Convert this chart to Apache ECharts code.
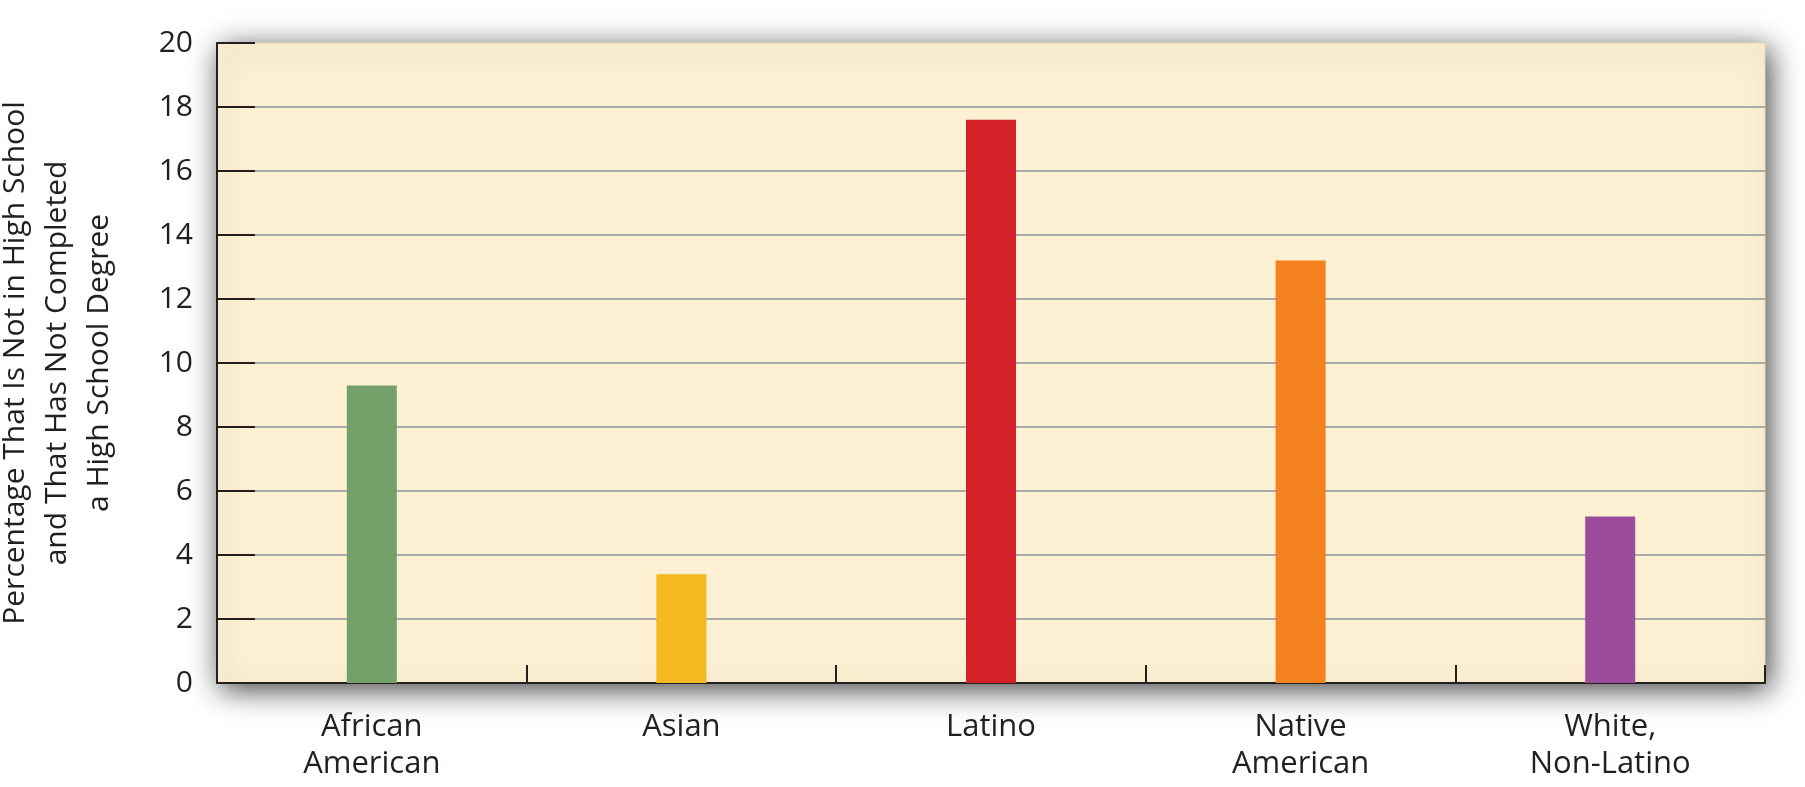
<!DOCTYPE html>
<html>
<head>
<meta charset="utf-8">
<script src="https://cdn.jsdelivr.net/npm/echarts@6/dist/echarts.min.js"></script>
<style>
html,body{margin:0;padding:0;background:#fff;}
#chart{width:1805px;height:787px;}
</style>
</head>
<body>
<div id="chart"></div>
<script>
const categories = ['African\nAmerican', 'Asian', 'Latino', 'Native\nAmerican', 'White,\nNon-Latino'];
const values = [9.3, 3.4, 17.6, 13.2, 5.2];
const barColors = ['#74a06a', '#f4b920', '#d42128', '#f58221', '#9b4d9c'];
const yTitle = 'Percentage That Is Not in High School\nand That Has Not Completed\na High School Degree';

const chart = echarts.init(document.getElementById('chart'), null, {renderer: 'canvas'});
const FONT = '"Open Sans", "Liberation Sans", sans-serif';
chart.setOption({
  animation: false,
  backgroundColor: '#ffffff',
  grid: {
    left: 217, right: 40, top: 43, bottom: 104,
    containLabel: false,
    outerBoundsMode: 'none',
    show: true,
    backgroundColor: '#fef0d2',
    borderColor: '#e6d9b5',
    borderWidth: 1,
    shadowColor: 'rgba(0,0,0,0.75)',
    shadowBlur: 28,
    shadowOffsetX: 4,
    shadowOffsetY: 6
  },
  xAxis: {
    type: 'category',
    data: categories,
    boundaryGap: true,
    axisLine: {show: true, lineStyle: {color: '#231f20', width: 2}},
    axisTick: {show: true, inside: true, length: 18, alignWithLabel: false, lineStyle: {color: '#231f20', width: 2}},
    axisLabel: {color: '#231f20', fontFamily: FONT, fontSize: 31, lineHeight: 37, margin: 26, interval: 0},
    splitLine: {show: false}
  },
  yAxis: {
    type: 'value',
    min: 0, max: 20, interval: 2,
    name: yTitle,
    nameLocation: 'middle',
    nameGap: 97,
    nameRotate: 90,
    nameTextStyle: {color: '#231f20', fontFamily: FONT, fontSize: 30, lineHeight: 42, align: 'center'},
    axisLine: {show: true, lineStyle: {color: '#231f20', width: 2}},
    axisTick: {show: true, inside: true, length: 38, lineStyle: {color: '#231f20', width: 2}},
    axisLabel: {color: '#231f20', fontFamily: FONT, fontSize: 30, margin: 24},
    splitLine: {show: true, showMinLine: false, showMaxLine: false, lineStyle: {color: '#a7a9ac', width: 2}}
  },
  series: [{
    type: 'bar',
    barWidth: 50,
    data: values.map((v, i) => ({value: v, itemStyle: {color: barColors[i]}}))
  }]
});
</script>
</body>
</html>
